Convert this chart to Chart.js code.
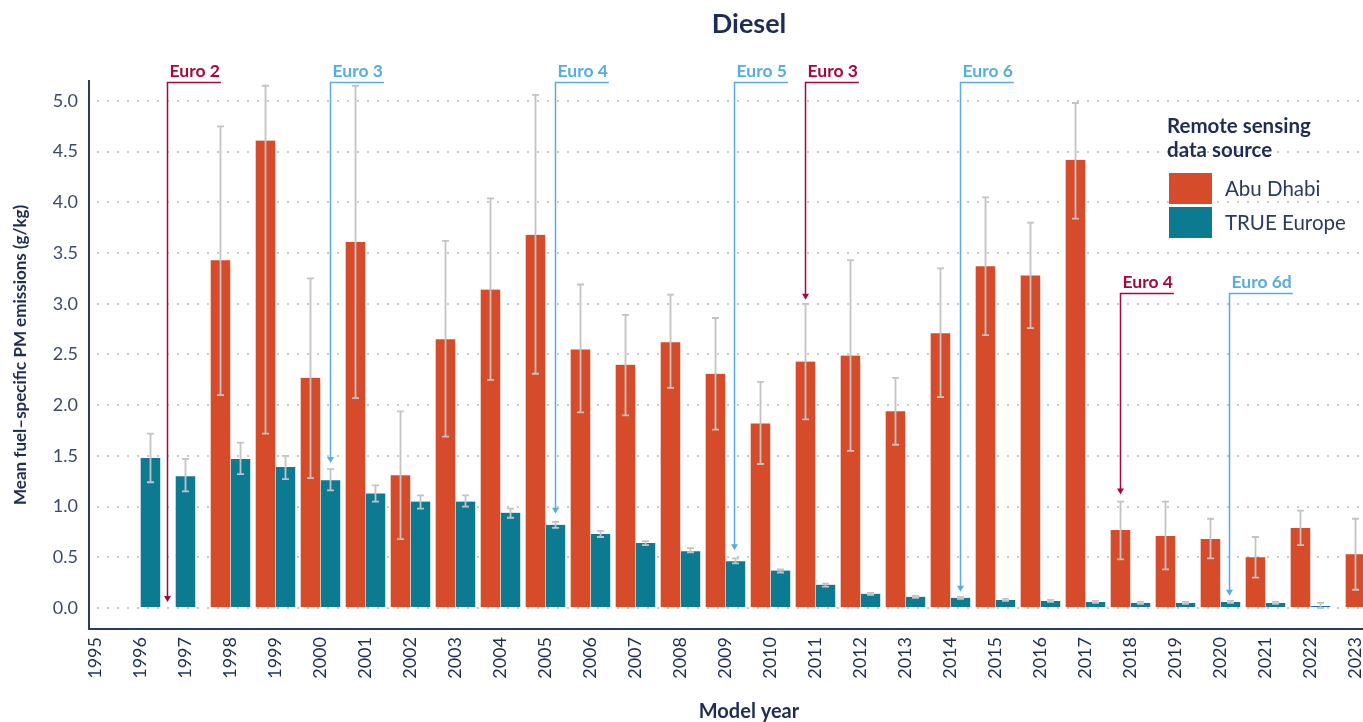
<!DOCTYPE html>
<html>
<head>
<meta charset="utf-8">
<script src="https://cdn.jsdelivr.net/npm/chart.js@4.4.1/dist/chart.umd.min.js"></script>
<style>
  html, body { margin: 0; padding: 0; background: #fff; overflow: hidden; }
  #wrap { width: 1409px; height: 722px; }
</style>
</head>
<body>
<div id="wrap"><canvas id="chart" width="1409" height="722"></canvas></div>
<script>
// model years on the x axis
const years = [1995, 1996, 1997, 1998, 1999, 2000, 2001, 2002, 2003, 2004,
  2005, 2006, 2007, 2008, 2009, 2010, 2011, 2012, 2013, 2014,
  2015, 2016, 2017, 2018, 2019, 2020, 2021, 2022, 2023]

// mean fuel-specific PM (g/kg) and error bar ends
const abuDhabi = [null, 0, null, 3.43, 4.61, 2.27, 3.61, 1.31, 2.65, 3.14,
  3.68, 2.55, 2.40, 2.62, 2.31, 1.82, 2.43, 2.49, 1.94, 2.71,
  3.37, 3.28, 4.42, 0.77, 0.71, 0.68, 0.50, 0.79, 0.53]
const abuLow = [null, null, null, 2.10, 1.72, 1.28, 2.07, 0.68, 1.69, 2.25,
  2.31, 1.93, 1.90, 2.17, 1.76, 1.42, 1.86, 1.55, 1.61, 2.08,
  2.69, 2.76, 3.84, 0.48, 0.38, 0.49, 0.30, 0.62, 0.18]
const abuHigh = [null, null, null, 4.75, 5.15, 3.25, 5.15, 1.94, 3.62, 4.04,
  5.06, 3.19, 2.89, 3.09, 2.86, 2.23, 3.00, 3.43, 2.27, 3.35,
  4.05, 3.80, 4.98, 1.05, 1.05, 0.88, 0.70, 0.96, 0.88]

const trueEurope = [null, 1.48, 1.30, 1.47, 1.39, 1.26, 1.13, 1.05, 1.05, 0.94,
  0.82, 0.73, 0.64, 0.56, 0.46, 0.37, 0.23, 0.14, 0.11, 0.10,
  0.08, 0.07, 0.06, 0.05, 0.05, 0.06, 0.05, 0.02, null]
const trueLow = [null, 1.24, 1.15, 1.32, 1.27, 1.16, 1.05, 0.98, 1.00, 0.89,
  0.79, 0.70, 0.62, 0.55, 0.44, 0.35, 0.21, 0.13, 0.10, 0.09,
  0.07, 0.06, 0.05, 0.04, 0.04, 0.05, 0.04, 0.00, null]
const trueHigh = [null, 1.72, 1.47, 1.63, 1.50, 1.37, 1.21, 1.11, 1.11, 0.98,
  0.85, 0.76, 0.66, 0.59, 0.49, 0.38, 0.24, 0.15, 0.12, 0.11,
  0.09, 0.08, 0.07, 0.06, 0.06, 0.07, 0.06, 0.05, null]

// emission standard markers (x in model years, y in g/kg)
const euroLabels = ["Euro 2", "Euro 3", "Euro 4", "Euro 5", "Euro 3", "Euro 6", "Euro 4", "Euro 6d"]
const euroYear = [1996.6, 2000.22, 2005.22, 2009.2, 2010.76, 2014.22, 2017.76, 2020.2]
const euroTop = [5.19, 5.19, 5.19, 5.19, 5.19, 5.19, 3.11, 3.11]
const euroTip = [0.06, 1.43, 0.93, 0.57, 3.04, 0.16, 1.12, 0.12]
const euroGroup = ["gcc", "eu", "eu", "eu", "gcc", "eu", "gcc", "eu"]

const yTicks = [0, 0.5, 1, 1.5, 2, 2.5, 3, 3.5, 4, 4.5, 5]

const colors = {
  abu: "#d64b2a",
  euro: "#0c7b92",
  navy: "#1e2d52",
  tick: "#3b4a6b",
  err: "#c3c3c3",
  gcc: "#a3093f",
  eu: "#56ade0",
  grid: "#c9c9c9",
}
const FONT = "Lato, 'Open Sans', sans-serif"

const errorBars = {
  id: "errorBars",
  afterDatasetsDraw(chart) {
    const { ctx } = chart
    const y = chart.scales.y
    ctx.save()
    ctx.setLineDash([])
    ctx.strokeStyle = colors.err
    ctx.lineWidth = 1.8
    chart.data.datasets.forEach((ds, i) => {
      const meta = chart.getDatasetMeta(i)
      meta.data.forEach((bar, j) => {
        const lo = ds.errLow[j]
        const hi = ds.errHigh[j]
        if (lo == null || hi == null) return
        const bx = Math.round(bar.x) + 0.5
        const yl = y.getPixelForValue(lo)
        const yh = y.getPixelForValue(hi)
        ctx.beginPath()
        ctx.moveTo(bx, yl)
        ctx.lineTo(bx, yh)
        ctx.moveTo(bx - 3.5, yl)
        ctx.lineTo(bx + 3.5, yl)
        ctx.moveTo(bx - 3.5, yh)
        ctx.lineTo(bx + 3.5, yh)
        ctx.stroke()
      })
    })
    ctx.restore()
  },
}

const euroMarkers = {
  id: "euroMarkers",
  afterDatasetsDraw(chart) {
    const { ctx } = chart
    const { x, y } = chart.scales
    ctx.save()
    ctx.setLineDash([])
    ctx.font = "bold 17.5px " + FONT
    euroLabels.forEach((lab, k) => {
      const col = colors[euroGroup[k]]
      const px = Math.round(x.getPixelForValue(euroYear[k])) + 0.5
      const top = Math.round(y.getPixelForValue(euroTop[k])) + 0.5
      const tip = y.getPixelForValue(euroTip[k])
      const w = ctx.measureText(lab).width
      ctx.strokeStyle = col
      ctx.lineWidth = 1.5
      ctx.beginPath()
      ctx.moveTo(px + w + 3, top)
      ctx.lineTo(px, top)
      ctx.lineTo(px, tip - 5)
      ctx.stroke()
      ctx.fillStyle = col
      ctx.beginPath()
      ctx.moveTo(px - 3.5, tip - 6)
      ctx.lineTo(px + 3.5, tip - 6)
      ctx.lineTo(px, tip)
      ctx.closePath()
      ctx.fill()
      ctx.textAlign = "left"
      ctx.textBaseline = "alphabetic"
      ctx.fillText(lab, px + 2, top - 6)
    })
    ctx.restore()
  },
}

const boxLegend = {
  id: "boxLegend",
  afterDraw(chart) {
    const { ctx } = chart
    ctx.save()
    ctx.fillStyle = colors.navy
    ctx.font = "bold 20.5px " + FONT
    ctx.textAlign = "left"
    ctx.textBaseline = "alphabetic"
    ctx.fillText("Remote sensing", 1167, 133)
    ctx.fillText("data source", 1167, 156.5)
    chart.data.datasets.forEach((ds, i) => {
      const top = 173 + i * 34
      ctx.fillStyle = ds.backgroundColor
      ctx.fillRect(1169, top, 43, 31)
      ctx.fillStyle = "#2b3a5e"
      ctx.font = "20.5px " + FONT
      ctx.textBaseline = "middle"
      ctx.fillText(ds.label, 1225, top + 16)
    })
    ctx.restore()
  },
}

const toPoints = (vals) => years.map((yr, i) => ({ x: yr, y: vals[i] }))

const barStyle = {
  skipNull: true,
  barThickness: 20,
  borderColor: "#ffffff",
  borderWidth: { left: 0.5, right: 0.5, top: 0, bottom: 0 },
  borderSkipped: false,
}

new Chart(document.getElementById("chart"), {
  type: "bar",
  data: {
    datasets: [
      Object.assign({
        label: "Abu Dhabi",
        data: toPoints(abuDhabi),
        backgroundColor: colors.abu,
        errLow: abuLow,
        errHigh: abuHigh,
      }, barStyle),
      Object.assign({
        label: "TRUE Europe",
        data: toPoints(trueEurope),
        backgroundColor: colors.euro,
        errLow: trueLow,
        errHigh: trueHigh,
      }, barStyle),
    ],
  },
  options: {
    responsive: false,
    animation: false,
    layout: { padding: 0 },
    plugins: {
      legend: { display: false },
      tooltip: { enabled: false },
      title: {
        display: true,
        text: "Diesel",
        fullSize: false,
        color: colors.navy,
        font: { family: FONT, size: 27, weight: "bold", lineHeight: 1.2 },
        padding: { top: 8.3, bottom: 40 },
      },
    },
    scales: {
      x: {
        type: "linear",
        offset: false,
        min: 1994.856,
        max: 2024.19,
        afterFit: (s) => { s.height = 93 },
        afterBuildTicks: (s) => { s.ticks = s.ticks.filter((t) => t.value >= years[0] && t.value <= years[years.length - 1]) },
        grid: { display: false, drawTicks: false, offset: false },
        border: { display: true, color: "#2c3a5c", width: 2 },
        ticks: {
          stepSize: 1,
          includeBounds: false,
          autoSkip: false,
          minRotation: 90,
          maxRotation: 90,
          padding: 8,
          color: colors.navy,
          font: { family: FONT, size: 18 },
          callback: (v) => String(v),
        },
        title: {
          display: true,
          text: "Model year",
          color: colors.navy,
          font: { family: FONT, size: 20, weight: "bold", lineHeight: 1 },
          padding: 0,
        },
      },
      y: {
        min: -0.2071,
        max: 5.2,
        afterFit: (s) => { s.width = 89 },
        afterBuildTicks: (s) => { s.ticks = yTicks.map((v) => ({ value: v })) },
        grid: {
          color: colors.grid,
          lineWidth: 2,
          drawTicks: false,
        },
        border: { display: true, color: "#2c3a5c", width: 2, dash: [2, 8], dashOffset: 3 },
        ticks: {
          stepSize: 0.5,
          includeBounds: false,
          padding: 11,
          color: colors.tick,
          font: { family: FONT, size: 18 },
          callback: (v) => v.toFixed(1),
        },
        title: {
          display: true,
          text: "Mean fuel–specific PM emissions (g/kg)",
          color: colors.navy,
          font: { family: FONT, size: 17, weight: "bold", lineHeight: 1.2 },
          padding: { top: 10, bottom: 0 },
        },
      },
    },
  },
  plugins: [errorBars, euroMarkers, boxLegend],
})
</script>
</body>
</html>
